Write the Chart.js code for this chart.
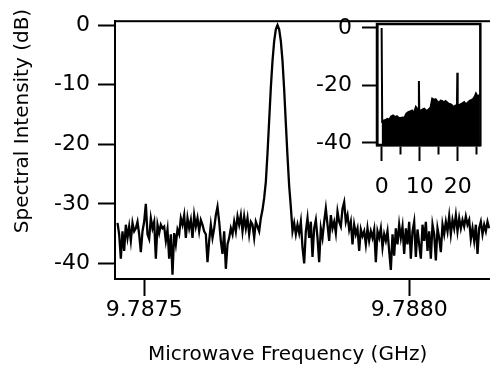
<!DOCTYPE html>
<html>
<head>
<meta charset="UTF-8">
<title>Spectral Intensity</title>
<script src="https://cdn.jsdelivr.net/npm/chart.js@4.4.0/dist/chart.umd.min.js"></script>
<style>
  body { margin: 0; background: #fff; }
  #wrap { position: relative; width: 490px; height: 368px; overflow: hidden; }
  #mainChart { position: absolute; left: 0; top: 0; }
  #insetChart { position: absolute; left: 290px; top: 0; }
  .axisTitle { position: absolute; font: 20px "DejaVu Sans"; line-height: 24px; white-space: nowrap; color: #000; }
  #xTitle { left: 148px; top: 341px; }
  #yTitle { left: -99px; top: 109px; width: 240px; text-align: center; transform: rotate(-90deg); }
</style>
</head>
<body>
<div id="wrap">
  <canvas id="mainChart" width="520" height="368"></canvas>
  <canvas id="insetChart" width="200" height="205"></canvas>
  <div id="xTitle" class="axisTitle">Microwave Frequency (GHz)</div>
  <div id="yTitle" class="axisTitle">Spectral Intensity (dB)</div>
</div>

<script>
// sampling of the spectrum (GHz)
const freqStart = 9.78744944;
const freqStep = 0.0000031447;

// noise floor below the line (dB)
const noiseLow = [
  -33.2, -35.1, -39.2, -34.6, -37.9, -33.5, -35.7, -33.8, -36.2, -33.2,
  -34.6, -34.1, -33.0, -35.1, -38.1, -34.6, -33.0, -30.0, -35.1, -35.9,
  -32.4, -34.1, -33.0, -39.2, -33.5, -34.9, -33.5, -34.1, -33.8, -36.2,
  -34.3, -39.2, -35.1, -41.9, -34.9, -36.8, -34.3, -35.1, -32.4, -33.5,
  -31.9, -35.7, -32.4, -34.1, -32.7, -35.7, -31.9, -33.8, -32.4, -34.6,
  -32.7, -33.5, -34.6, -35.1, -39.8, -36.2, -33.5, -35.7, -34.1, -31.9,
  -30.5, -33.0, -36.2, -38.4, -34.6, -40.9, -36.8, -35.7, -34.1, -35.1,
  -33.0, -34.6, -32.1, -33.5, -31.9, -34.6, -32.1, -34.1, -32.4, -35.1,
  -33.0, -33.5, -35.7, -33.0, -33.8, -34.6, -32.4
];
// the microwave line itself (dB)
const peakDb = [
  -31.0, -29.0, -26.3, -21.5, -16.0, -10.5, -6.0, -2.7, -0.7, 0,
  -0.7, -2.7, -6.0, -10.8, -16.5, -22.0, -27.0, -30.5
];
// noise floor above the line (dB)
const noiseHigh = [
  -34.6, -33.2, -35.1, -33.5, -34.9, -33.0, -37.3, -40.0, -34.6, -32.4,
  -35.7, -33.0, -38.9, -34.1, -32.7, -35.7, -39.8, -34.1, -35.7, -33.0,
  -30.8, -33.5, -36.2, -31.9, -34.1, -33.0, -34.9, -31.3, -33.0, -33.8,
  -30.8, -29.7, -33.0, -31.9, -34.3, -33.0, -36.8, -33.5, -35.1, -34.1,
  -37.9, -34.3, -35.4, -34.6, -36.8, -34.1, -36.2, -34.6, -35.7, -34.3,
  -39.8, -34.6, -35.7, -34.1, -37.3, -35.1, -36.2, -34.6, -37.9, -41.1,
  -35.1, -38.7, -34.1, -36.8, -33.5, -35.7, -33.8, -38.4, -34.1, -36.8,
  -33.0, -39.2, -34.6, -33.0, -38.9, -34.3, -36.8, -39.2, -33.5, -36.2,
  -33.0, -37.9, -34.6, -39.2, -33.5, -35.1, -39.5, -34.1, -35.7, -38.1,
  -33.5, -35.1, -33.0, -34.6, -32.1, -35.1, -32.7, -34.1, -31.9, -34.6,
  -32.4, -34.1, -32.7, -33.8, -32.1, -33.5, -32.7, -35.9, -34.1, -36.2,
  -33.5, -38.4, -34.1, -33.0, -35.1, -33.5, -34.6, -33.0, -34.1
];

// inset: wide span
const insetX = [
  0, 0.15, 0.5, 1.0, 1.5, 2.0, 2.5, 3.0, 3.5, 4.0, 4.5, 5.0, 5.5, 6.0, 6.5, 7.0, 7.5, 8.0, 8.5, 9.0,
  9.5, 9.7, 9.8, 9.9, 10.3, 10.8, 11.2, 11.6, 12.0, 12.5, 12.9, 13.3, 13.8, 14.2, 14.7, 15.1, 15.5,
  15.9, 16.4, 16.8, 17.2, 17.6, 18.1, 18.5, 18.9, 19.4, 19.8, 19.9, 20.0, 20.2, 20.7, 21.1, 21.7,
  22.0, 22.4, 22.8, 23.3, 23.7, 24.1, 24.5, 24.8, 25.1, 25.4, 25.8
];
const insetDb = [
  0, -32.5, -32.2, -32.0, -31.6, -31.9, -30.8, -30.4, -31.0, -30.7, -31.2, -31.3, -31.1, -31.2, -29.8, -29.3, -29.0, -28.7, -29.6, -27.5,
  -28.4, -28.5, -18.4, -28.6, -28.7, -28.3, -28.1, -28.6, -28.8, -28.2, -27.5, -24.6, -25.0, -24.8, -25.6, -26.1, -25.3,
  -25.4, -25.9, -25.4, -25.8, -26.3, -26.5, -26.9, -27.5, -27.0, -27.1, -15.6, -27.0, -26.9, -26.6, -26.3, -25.8,
  -26.4, -26.3, -25.7, -25.2, -25.0, -24.6, -23.8, -22.8, -23.5, -23.9, -23.2
];

// tick labels
const freqTicks = [9.7875, 9.7880];
const dbTicks = [0, -10, -20, -30, -40];
const insetXTicks = [0, 5, 10, 15, 20, 25];
const insetDbTicks = [0, -20, -40];

Chart.defaults.font.family = 'DejaVu Sans';
Chart.defaults.color = '#000';

const mainDb = noiseLow.concat(peakDb, noiseHigh);
const mainPoints = mainDb.map((y, i) => ({ x: freqStart + i * freqStep, y: y }));
const insetPoints = insetX.map((x, i) => ({ x: x, y: insetDb[i] }));

// frame around the plot area
const boxPlugin = {
  id: 'box',
  afterDatasetsDraw(chart, args, opts) {
    const a = chart.chartArea;
    const ctx = chart.ctx;
    ctx.save();
    ctx.strokeStyle = '#000';
    ctx.lineWidth = opts.width;
    ctx.strokeRect(a.left, a.top, a.right - a.left, a.bottom - a.top);
    ctx.restore();
  }
};

new Chart('mainChart', {
  type: 'line',
  data: {
    datasets: [{
      data: mainPoints,
      borderColor: '#000',
      borderWidth: 2.3,
      pointRadius: 0,
      tension: 0
    }]
  },
  options: {
    responsive: false,
    animation: false,
    devicePixelRatio: 1,
    layout: { padding: { top: 14, left: 0, right: 0, bottom: 0 } },
    plugins: { legend: { display: false }, tooltip: { enabled: false }, box: { width: 2 } },
    scales: {
      x: {
        type: 'linear',
        min: 9.78744472,
        max: 9.78820887,
        afterBuildTicks: s => { s.ticks = freqTicks.map(v => ({ value: v })); },
        afterFit: s => { s.height = 89; },
        border: { display: true, color: '#000', width: 2 },
        grid: { drawOnChartArea: false, drawTicks: true, tickLength: 17, tickWidth: 2, tickColor: '#000' },
        ticks: { font: { size: 22 }, padding: 1, maxRotation: 0, autoSkip: false, callback: v => v.toFixed(4) }
      },
      y: {
        min: -42.61,
        max: 0.653,
        afterBuildTicks: s => { s.ticks = dbTicks.map(v => ({ value: v })); },
        afterFit: s => { s.width = 115; },
        border: { display: true, color: '#000', width: 2 },
        grid: { drawOnChartArea: false, drawTicks: true, tickLength: 17, tickWidth: 2, tickColor: '#000' },
        ticks: { font: { size: 22 }, padding: 8 }
      }
    }
  },
  plugins: [boxPlugin]
});

new Chart('insetChart', {
  type: 'line',
  data: {
    datasets: [{
      data: insetPoints,
      borderColor: '#000',
      backgroundColor: '#000',
      borderWidth: 2,
      pointRadius: 0,
      tension: 0,
      fill: 'start'
    }]
  },
  options: {
    responsive: false,
    animation: false,
    devicePixelRatio: 1,
    layout: { padding: { top: 24, left: 0, right: 8, bottom: 0 } },
    plugins: { legend: { display: false }, tooltip: { enabled: false }, box: { width: 2.5 } },
    scales: {
      x: {
        type: 'linear',
        min: -1.216,
        max: 25.95,
        afterBuildTicks: s => { s.ticks = insetXTicks.map(v => ({ value: v })); },
        afterFit: s => { s.height = 60; },
        border: { display: true, color: '#000', width: 2.5 },
        grid: {
          drawOnChartArea: false, drawTicks: true, tickLength: 16, tickWidth: 2, tickColor: '#000',
          tickBorderDash: c => (c.tick && c.tick.value % 10 !== 0) ? [8, 100] : []
        },
        ticks: { font: { size: 22 }, padding: 13, maxRotation: 0, autoSkip: false, callback: v => (v % 10 === 0 ? String(v) : '') }
      },
      y: {
        min: -40.7,
        max: 1.39,
        afterBuildTicks: s => { s.ticks = insetDbTicks.map(v => ({ value: v })); },
        afterFit: s => { s.width = 87; },
        border: { display: true, color: '#000', width: 2.5 },
        grid: { drawOnChartArea: false, drawTicks: true, tickLength: 15, tickWidth: 2, tickColor: '#000' },
        ticks: { font: { size: 22 }, padding: 10 }
      }
    }
  },
  plugins: [boxPlugin]
});
</script>
</body>
</html>
